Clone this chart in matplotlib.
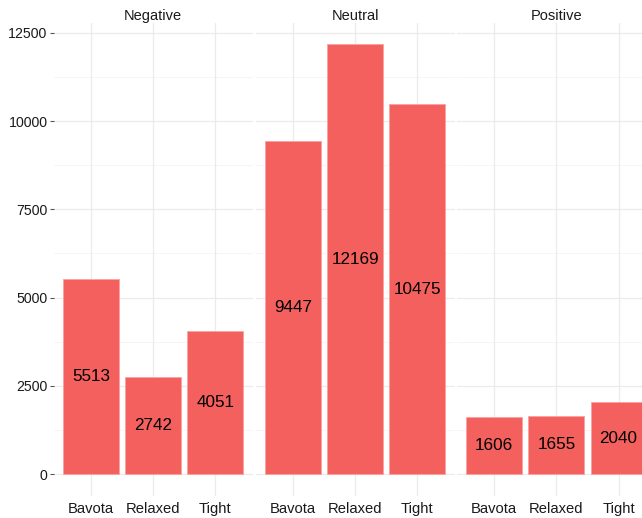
import numpy as np
import matplotlib
matplotlib.use("Agg")
import matplotlib.pyplot as plt

plt.rcParams['font.family'] = ['Liberation Sans', 'DejaVu Sans']

# data
facets = ["Negative", "Neutral", "Positive"]
methods = ["Bavota", "Relaxed", "Tight"]
counts = {
    "Negative": [5513, 2742, 4051],
    "Neutral": [9447, 12169, 10475],
    "Positive": [1606, 1655, 2040],
}
y_ticks = [0, 2500, 5000, 7500, 10000, 12500]
y_minor = [1250, 3750, 6250, 8750, 11250]

W, H = 642, 518
fig = plt.figure(figsize=(W / 100, H / 100), dpi=100)

ymax = max(max(v) for v in counts.values())
ylo, yhi = -0.05 * ymax, 1.05 * ymax

# panel pixel layout (ggplot facet_wrap style, last panel cut by the frame)
panel_left = [53.7, 255.7, 456.9]
panel_w = 199.0
top_px, bot_px = 23.0, 495.5

bar_col = "#F3605D"
x = np.arange(1, len(methods) + 1)

for i, f in enumerate(facets):
    ax = fig.add_axes([panel_left[i] / W, (H - bot_px) / H,
                       panel_w / W, (bot_px - top_px) / H])
    ax.set_xlim(0.4, 3.6)
    ax.set_ylim(ylo, yhi)
    for s in ax.spines.values():
        s.set_visible(False)
    ax.set_axisbelow(True)
    for yv in y_minor:
        ax.axhline(yv, color="#f4f4f4", lw=0.6, zorder=0)
    for yv in y_ticks:
        ax.axhline(yv, color="#ebebeb", lw=0.9, zorder=0)
    for xv in x:
        ax.axvline(xv, color="#ebebeb", lw=0.9, zorder=0)

    vals = counts[f]
    ax.bar(x, vals, width=0.9, color=bar_col, edgecolor="#f9a3a0",
           linewidth=0.6, zorder=2)
    for xv, v in zip(x, vals):
        ax.text(xv, v / 2, str(v), ha="center", va="center",
                fontsize=12.3, color="black", zorder=3)

    ax.set_xticks(x)
    ax.set_xticklabels(methods, fontsize=10.6, color="#1a1a1a")
    ax.tick_params(axis="x", length=0, pad=5)
    ax.set_yticks(y_ticks)
    if i == 0:
        ax.set_yticklabels([str(t) for t in y_ticks], fontsize=10.2,
                           color="#1a1a1a")
        ax.tick_params(axis="y", length=3, width=0.8, color="#555555", pad=1.5)
    else:
        ax.tick_params(axis="y", length=0, labelleft=False)
    ax.set_title(f, fontsize=10.5, color="#1a1a1a", pad=1.8)

fig.savefig("out.png", dpi=100)
